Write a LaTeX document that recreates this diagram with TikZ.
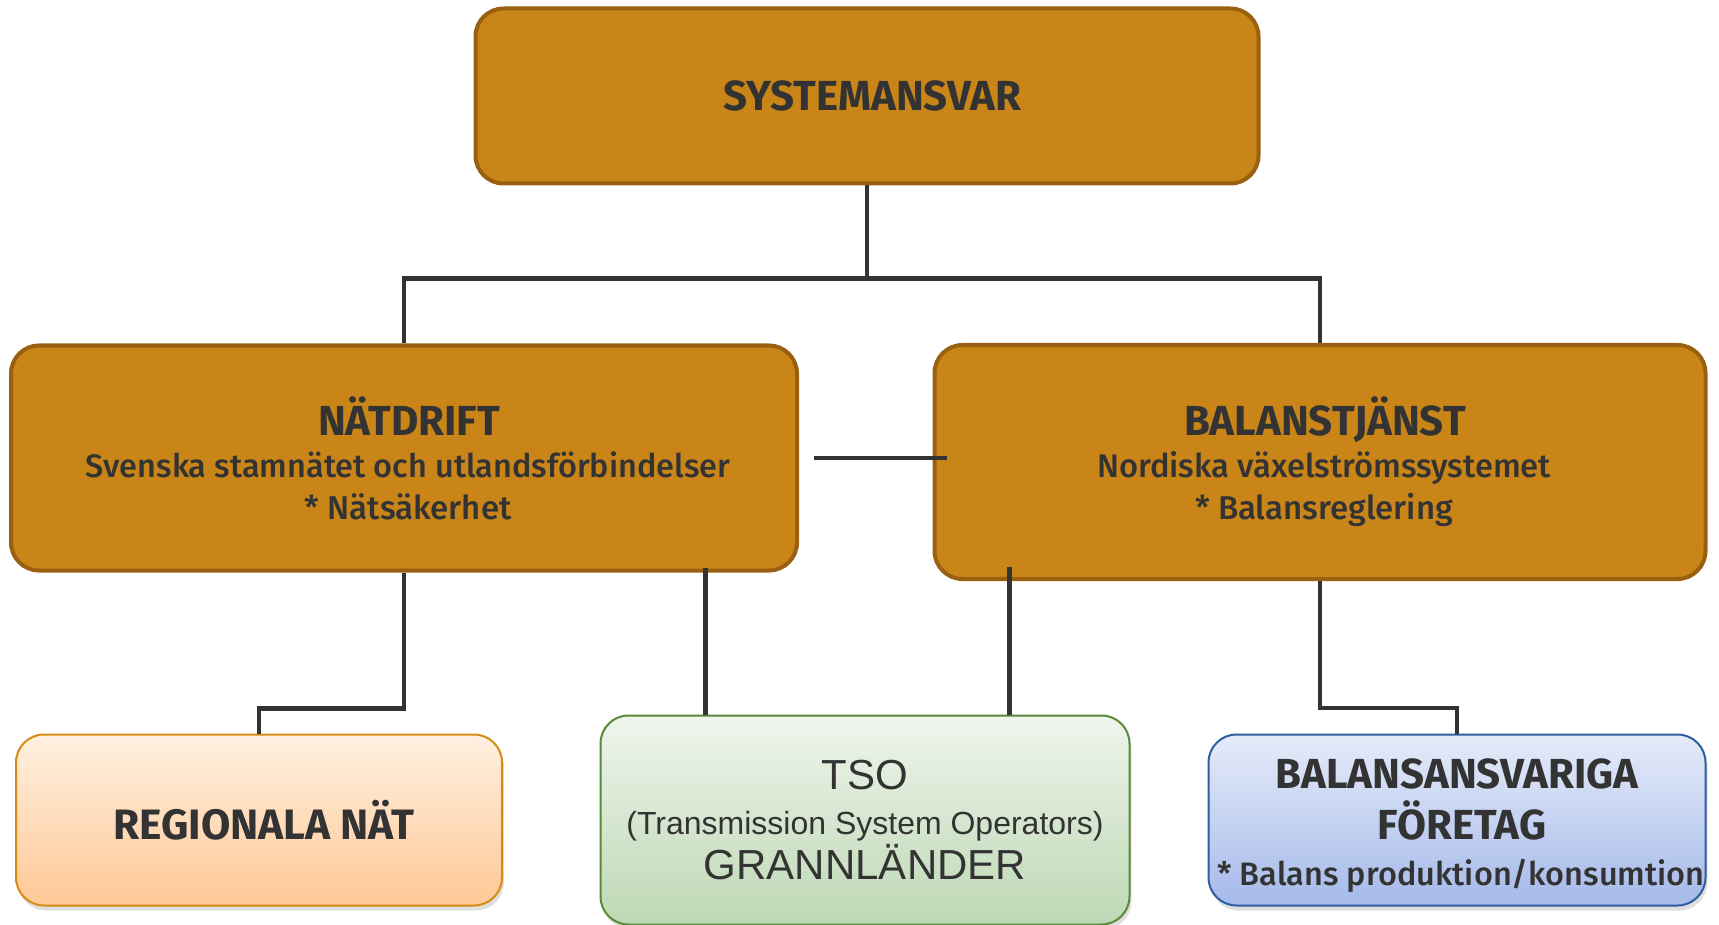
\documentclass[tikz,border=0pt]{standalone}
\usepackage{fontspec}
\setmainfont{Fira Sans}
\newfontfamily\firamed{Fira Sans Medium}
\newfontfamily\tsofont{Liberation Sans}
\usetikzlibrary{shadows}
\definecolor{txt}{RGB}{51,51,51}
\definecolor{linegray}{RGB}{51,51,51}
\definecolor{boxfill}{RGB}{201,133,23}
\definecolor{boxline}{RGB}{152,96,16}
\definecolor{regtop}{RGB}{255,240,224}
\definecolor{regbot}{RGB}{255,200,150}
\definecolor{regline}{RGB}{214,140,20}
\definecolor{tsotop}{RGB}{239,245,237}
\definecolor{tsobot}{RGB}{189,216,180}
\definecolor{tsoline}{RGB}{88,138,56}
\definecolor{bartop}{RGB}{229,235,249}
\definecolor{barbot}{RGB}{165,186,234}
\definecolor{barline}{RGB}{46,94,160}
\def\headfont#1{\fontsize{#1}{46}\selectfont\bfseries}
\def\subfont#1{\fontsize{#1}{42}\selectfont\firamed}

\begin{document}
\begin{tikzpicture}[x=1pt,y=-1pt]
\tikzstyle{every node}=[text=txt, font=\fontsize{30}{42}\selectfont]
\tikzstyle{mainbox}=[draw=boxline, fill=boxfill, line width=4pt, rounded corners=28pt, align=center, inner sep=0pt]
\tikzstyle{lowbox}=[line width=2pt, rounded corners=28pt, align=center, inner sep=0pt,
	drop shadow={shadow xshift=2pt, shadow yshift=-5pt, opacity=0.25}]
\tikzstyle{link}=[draw=linegray, line width=4.5pt]

	\useasboundingbox (0,0) rectangle (1719,925);

	% top and middle level
	\node[mainbox, minimum width=783, minimum height=175] (sys) at (867,96) {\headfont{42} SYSTEMANSVAR};
	\node[mainbox, minimum width=786, minimum height=225] (nat) at (404,458)
		{{\headfont{42} NÄTDRIFT}\\{\subfont{32.5} Svenska stamnätet och utlandsförbindelser}\\{\subfont{33} * Nätsäkerhet}};
	\node[mainbox, minimum width=771, minimum height=234] (bal) at (1320,462)
		{{\headfont{42} BALANSTJÄNST}\\{\subfont{32.7} Nordiska växelströmssystemet}\\{\subfont{33} * Balansreglering}};

	% bottom level
	\node[lowbox, draw=regline, top color=regtop, bottom color=regbot,
		minimum width=486, minimum height=171] (reg) at (259,820) {\headfont{42.5} REGIONALA NÄT};
	\node[lowbox, draw=tsoline, top color=tsotop, bottom color=tsobot,
		minimum width=529, minimum height=209, font=\tsofont\fontsize{32}{45}\selectfont] (tso) at (865,820)
		{{\fontsize{42}{45}\selectfont TSO}\\(Transmission System Operators)\\{\fontsize{42}{45}\selectfont GRANNLÄNDER}};
	\node[lowbox, draw=barline, top color=bartop, bottom color=barbot,
		minimum width=497, minimum height=171, font=\fontsize{30}{51}\selectfont] (bar) at (1457,820)
		{{\headfont{42}\rule{0pt}{42pt}BALANSANSVARIGA}\\{\headfont{42} FÖRETAG}\\[-5pt]{\subfont{32.5} * Balans produktion/konsumtion}};

	% connectors
	\draw[link] (sys.south) -- ++(0,93) coordinate (split);
	\draw[link] (nat.north) |- (split) -| (bal.north);
	\draw[link] ([xshift=15pt]nat.east) -- ([xshift=14pt]bal.west |- nat.east);
	\draw[link] (nat.south) -- ++(0,136) -| (reg.north);
	\draw[link] ([xshift=106pt]tso.north west) -- ([xshift=106pt,yshift=5pt]tso.north west |- nat.south);
	\draw[link] ([xshift=-121pt]tso.north east) -- ([xshift=-121pt,yshift=14pt]tso.north east |- bal.south);
	\draw[link] (bal.south) -- ++(0,127) -| (bar.north);
\end{tikzpicture}
\end{document}
